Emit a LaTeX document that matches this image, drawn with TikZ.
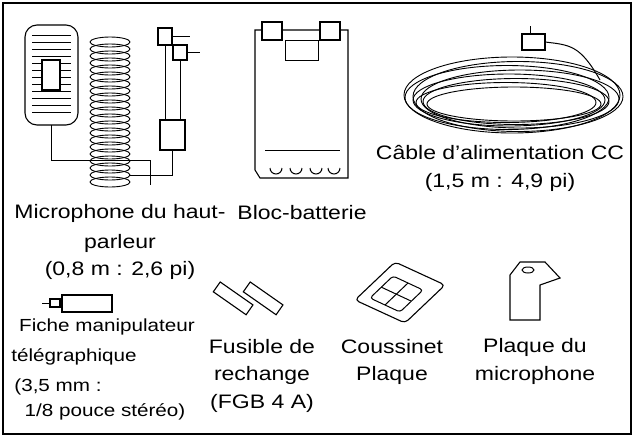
\documentclass[tikz,border=0pt]{standalone}
\usepackage{fontspec}
\setmainfont[FakeStretch=1.18]{Liberation Sans}
\begin{document}
\begin{tikzpicture}[x=1pt,y=-1pt,line width=1pt,
 lbl/.style={font=\fontsize{19.5}{21}\selectfont,inner sep=0pt},
 slbl/.style={font=\fontsize{17.5}{19}\selectfont,inner sep=0pt},
 part/.style={draw=black,fill=white,line width=1.1pt}]
\useasboundingbox (0,0) rectangle (634,437);
\draw[line width=1.3pt] (3,3) rectangle (631,434);
% microphone
\draw[part,rounded corners=12] (25,25) rectangle (78,125);
\foreach \y in {35,42,...,115} \draw[line width=0.7pt] (32,\y) -- (71,\y);
\draw[part] (42,60) rectangle (60,90);
\draw (51,125) -- (51,160) -- (150,160) -- (150,185);
% coil
\foreach \y in {42,49,...,182} \draw[line width=0.9pt] (110,\y) ellipse (20 and 5);
% plugs
\draw (165,40) -- (165,130); \draw (180,55) -- (180,130);
\draw[part] (158,28) rectangle (172,45); \draw (172,36) -- (190,36);
\draw[part] (173,45) rectangle (187,60); \draw (187,52) -- (200,52);
\draw[part] (160,120) rectangle (185,150);
\draw (172,150) -- (172,175) -- (130,175);
% battery
\draw[part] (255,30) -- (348,30) -- (348,178) -- (260,178) -- (255,170) -- cycle;
\draw[part] (262,22) rectangle (282,40); \draw[part] (320,22) rectangle (340,40);
\draw (285,40) rectangle (318,60);
\draw (265,150) -- (340,150);
\foreach \x in {270,290,310,328} \draw (\x,168) arc (180:0:6);
% cable
\foreach \i/\dx/\dy in {0/0/0,1/6/3,2/-5/5,3/8/8,4/-3/10,5/4/13,6/-6/15,7/2/18}
  \draw[line width=0.9pt] ({512+\dx},{95+\dy*0.5}) ellipse ({108-\i*3} and {38-\i*3});
\draw (600,80) .. controls (580,45) and (570,45) .. (545,42);
\draw[part] (522,34) rectangle (545,50);
\draw (530,34) -- (530,26);
% jack
\draw[part] (62,295) rectangle (112,312);
\draw (42,303) -- (62,303); \draw[part] (50,299) rectangle (60,307);
% fuses
\draw[part,rotate around={-35:(232,300)}] (212,292) rectangle (252,304);
\draw[part,rotate around={-35:(262,300)}] (242,292) rectangle (282,304);
% pad
\draw[part,rounded corners=4] (355,300) -- (395,262) -- (445,285) -- (405,323) -- cycle;
\draw[rounded corners=3] (370,298) -- (393,276) -- (423,290) -- (400,312) -- cycle;
\draw (381,287) -- (411,301); \draw (408,283) -- (385,305);
% bracket
\draw[part] (510,275) -- (510,320) -- (540,320) -- (540,285) -- (560,278) -- (545,262) -- (520,262) -- cycle;
\draw (528,270) ellipse (6 and 3);
% labels
\node[lbl] (m1) at (120,213) {Microphone du haut-};
\node[lbl] (m2) at (120,243) {parleur};
\node[lbl] (m3) at (120,270) {(0,8 m : 2,6 pi)};
\node[lbl] (b1) at (302,213) {Bloc-batterie};
\node[lbl] (c1) at (500,152) {Câble d'alimentation CC};
\node[lbl] (c2) at (500,182) {(1,5 m : 4,9 pi)};
\node[slbl] (f1) at (107,327) {Fiche manipulateur};
\node[slbl] (f2) at (74,357) {télégraphique};
\node[slbl] (f3) at (58,387) {(3,5 mm :};
\node[slbl] (f4) at (105,412) {1/8 pouce stéréo)};
\node[lbl] (u1) at (262,347) {Fusible de};
\node[lbl] (u2) at (262,375) {rechange};
\node[lbl] (u3) at (262,403) {(FGB 4 A)};
\node[lbl] (p1) at (392,347) {Coussinet};
\node[lbl] (p2) at (392,375) {Plaque};
\node[lbl] (q1) at (535,347) {Plaque du};
\node[lbl] (q2) at (535,375) {microphone};
\end{tikzpicture}
\end{document}
